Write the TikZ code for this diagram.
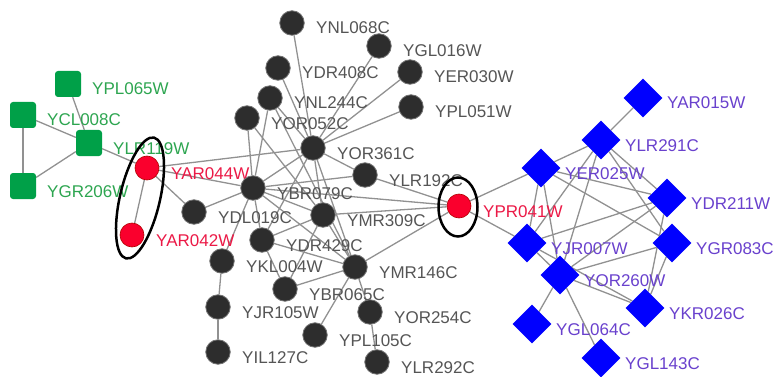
\documentclass[tikz,border=0pt]{standalone}
\usepackage{fontspec}
\setmainfont{Liberation Sans}
\usetikzlibrary{backgrounds,shapes.geometric}

\definecolor{edgegray}{RGB}{145,145,145}
\definecolor{darkfill}{RGB}{45,45,45}
\definecolor{darktext}{RGB}{85,85,85}
\definecolor{greenfill}{RGB}{0,160,72}
\definecolor{greentext}{RGB}{45,165,80}
\definecolor{redfill}{RGB}{250,0,45}
\definecolor{redtext}{RGB}{235,25,70}
\definecolor{bluefill}{RGB}{0,0,255}
\definecolor{bluetext}{RGB}{105,65,205}

\tikzset{
  lbl/.style={inner sep=0pt, font=\fontsize{17}{17}\selectfont},
  dark/.style={circle, fill=darkfill, draw=black!55, line width=0.8pt, minimum size=24.5pt, inner sep=0pt},
  dark text/.style={lbl, text=darktext},
  green/.style={rectangle, rounded corners=3pt, fill=greenfill, minimum size=26pt, inner sep=0pt},
  green text/.style={lbl, text=greentext},
  red/.style={circle, fill=redfill, draw=red!70!black, line width=0.6pt, minimum size=24pt, inner sep=0pt},
  red text/.style={lbl, text=redtext},
  blue/.style={diamond, aspect=1, fill=bluefill, minimum width=39pt, minimum height=39pt, inner sep=0pt},
  blue text/.style={lbl, text=bluetext},
  edge/.style={draw=edgegray, line width=1.3pt},
  ring/.style={draw=black, line width=2.5pt},
}

% style, name, x, y (pixels, y downwards), text
\newcommand\netnode[5]{%
  \node[#1] (#2) at (#3,-#4) {};
  \node[#1 text, anchor=base west] (#2-l) at ({#3+24},{-#4-11}) {#5};
}

\begin{document}
\begin{tikzpicture}[x=1pt,y=1pt]
\useasboundingbox (0,0) rectangle (776,-377);

% green cluster
\netnode{green}{gPL}{68}{84}{YPL065W}
\netnode{green}{gCL}{23}{115}{YCL008C}
\netnode{green}{gLR}{89}{143}{YLR119W}
\netnode{green}{gGR}{23}{186}{YGR206W}

% red proteins
\netnode{red}{rA44}{147}{168}{YAR044W}
\netnode{red}{rA42}{132}{235}{YAR042W}
\netnode{red}{rPR}{459}{206}{YPR041W}

% dark cluster
\netnode{dark}{NL068}{292}{23}{YNL068C}
\netnode{dark}{GL016}{379}{46}{YGL016W}
\netnode{dark}{DR408}{278}{68}{YDR408C}
\netnode{dark}{ER030}{410}{72}{YER030W}
\netnode{dark}{NL244}{270}{98}{YNL244C}
\netnode{dark}{PL051}{411}{107}{YPL051W}
\netnode{dark}{OR052}{247}{118}{YOR052C}
\netnode{dark}{OR361}{313}{148}{YOR361C}
\netnode{dark}{LR192}{365}{175}{YLR192C}
\netnode{dark}{BR079}{253}{188}{YBR079C}
\netnode{dark}{DL019}{194}{212}{YDL019C}
\netnode{dark}{MR309}{323}{215}{YMR309C}
\netnode{dark}{DR429}{262}{240}{YDR429C}
\netnode{dark}{KL004}{222}{261}{YKL004W}
\netnode{dark}{MR146}{355}{267}{YMR146C}
\netnode{dark}{BR065}{285}{289}{YBR065C}
\netnode{dark}{JR105}{218}{307}{YJR105W}
\netnode{dark}{OR254}{370}{312}{YOR254C}
\netnode{dark}{PL105}{315}{335}{YPL105C}
\netnode{dark}{IL127}{218}{352}{YIL127C}
\netnode{dark}{LR292}{377}{362}{YLR292C}

% blue cluster
\netnode{blue}{AR015}{643}{98}{YAR015W}
\netnode{blue}{LR291}{601}{140}{YLR291C}
\netnode{blue}{ER025}{541}{168}{YER025W}
\netnode{blue}{DR211}{667}{198}{YDR211W}
\netnode{blue}{JR007}{527}{243}{YJR007W}
\netnode{blue}{GR083}{672}{243}{YGR083C}
\netnode{blue}{OR260}{560}{275}{YOR260W}
\netnode{blue}{KR026}{645}{308}{YKR026C}
\netnode{blue}{GL064}{532}{324}{YGL064C}
\netnode{blue}{GL143}{601}{358}{YGL143C}

% interactions
\begin{pgfonlayer}{background}
\foreach \a/\b in {
  gPL/gLR, gCL/gLR, gCL/gGR, gGR/gLR, gLR/rA44,
  rA44/rA42, rA44/BR079, rA44/OR361, rA44/DL019,
  NL068/OR361, GL016/OR361, DR408/OR361, ER030/OR361, PL051/OR361, NL244/OR361,
  OR052/BR079, OR052/MR309, NL244/BR079, NL244/MR146,
  OR361/LR192, OR361/BR079, OR361/MR309, OR361/DR429, OR361/MR146,
  BR079/LR192, BR079/rPR, MR309/rPR, MR146/rPR, LR192/rPR,
  BR079/DL019, BR079/MR309, BR079/DR429, BR079/KL004, BR079/MR146,
  DR429/MR309, DR429/MR146, DR429/BR065,
  MR146/MR309, MR146/BR065, MR146/PL105, MR146/OR254, BR065/MR309,
  KL004/JR105, JR105/IL127, OR254/LR292,
  rPR/ER025, rPR/JR007,
  AR015/LR291, LR291/ER025, LR291/DR211, LR291/GR083, LR291/OR260, LR291/JR007,
  ER025/DR211, ER025/GR083, ER025/JR007, ER025/OR260,
  DR211/JR007, DR211/OR260, DR211/KR026,
  GR083/OR260, GR083/KR026,
  JR007/OR260, JR007/KR026,
  OR260/KR026, OR260/GL064, OR260/GL143}
  \draw[edge] (\a) -- (\b);
\end{pgfonlayer}

% highlight rings
\draw[ring, rotate around={-13.1:(140,-198)}] (140,-198) ellipse [x radius=20, y radius=62];
\draw[ring] (458,-207) ellipse [x radius=19.5, y radius=29.5];
\end{tikzpicture}
\end{document}
